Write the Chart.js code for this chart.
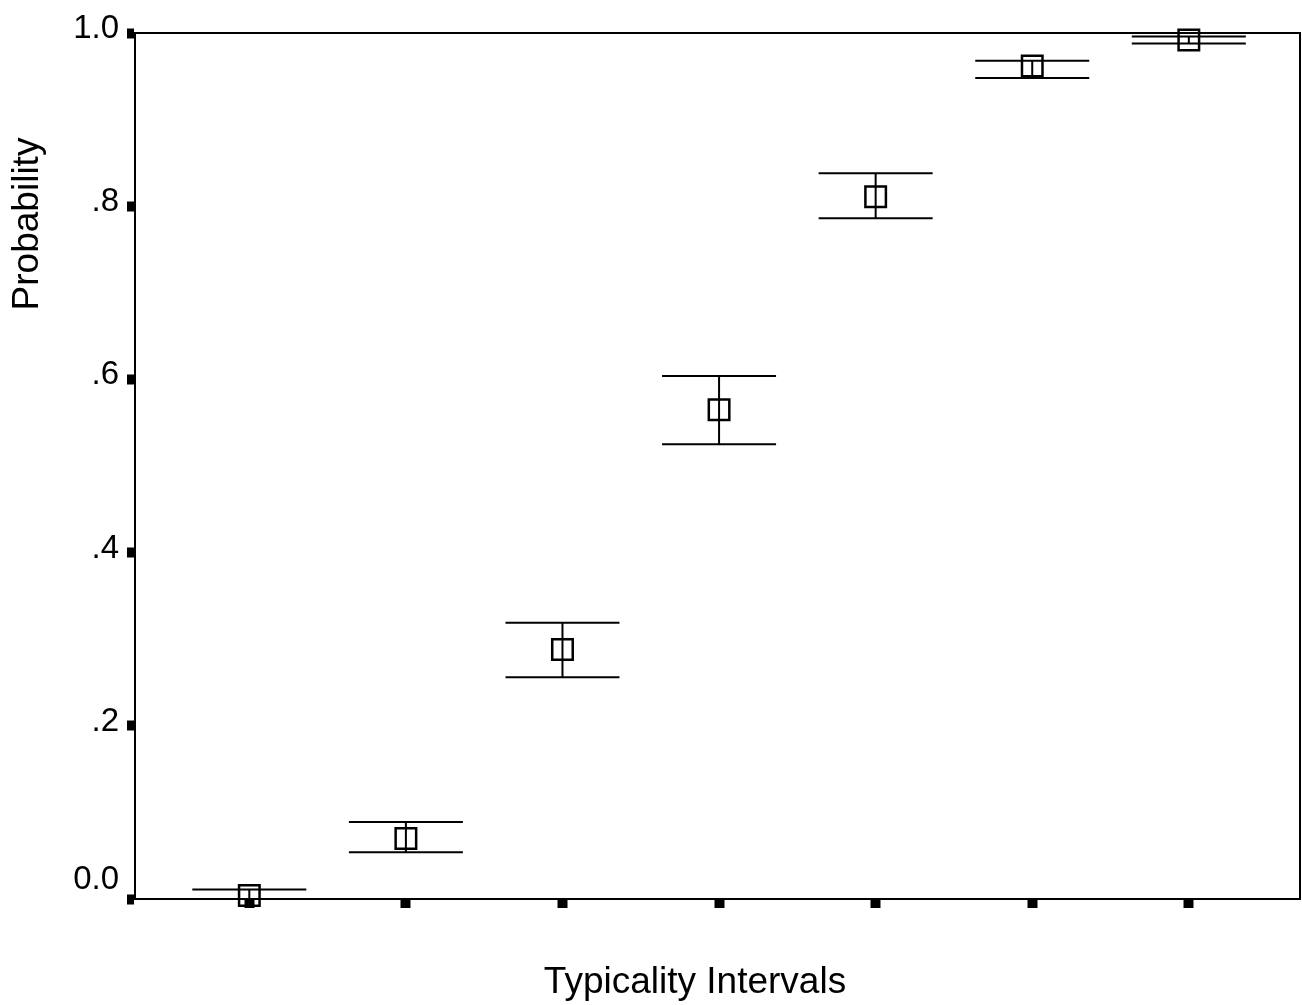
<!DOCTYPE html>
<html>
<head>
<meta charset="utf-8">
<script src="https://cdn.jsdelivr.net/npm/chart.js@4.4.1/dist/chart.umd.min.js"></script>
<style>
  html, body { margin: 0; padding: 0; background: #fff; overflow: hidden; }
  #wrap { width: 1302px; height: 1005px; }
  canvas { display: block; }
</style>
</head>
<body>
<div id="wrap"><canvas id="probChart"></canvas></div>
<script>
// Data
const intervals = [1, 2, 3, 4, 5, 6, 7];
const meanProb  = [0.004, 0.070, 0.288, 0.565, 0.811, 0.962, 0.992];
const upperProb = [0.011, 0.089, 0.319, 0.604, 0.838, 0.968, 0.996];
const lowerProb = [0.000, 0.054, 0.256, 0.525, 0.786, 0.948, 0.988];
const yTicks      = [0, 0.2, 0.4, 0.6, 0.8, 1.0];
const yTickLabels = ['0.0', '.2', '.4', '.6', '.8', '1.0'];
const xTitle = 'Typicality Intervals';
const yTitle = 'Probability';

const FONT = '"Liberation Sans", Arial, sans-serif';

// error bars, frame, tick labels, titles
const spssPlugin = {
    id: 'spss',
    beforeDatasetsDraw(chart) {
        const { ctx, scales: { x, y } } = chart;
        ctx.save();
        ctx.strokeStyle = '#000';
        ctx.lineWidth = 2;
        intervals.forEach((v, i) => {
            const px = x.getPixelForValue(v);
            const top = y.getPixelForValue(upperProb[i]);
            const bot = y.getPixelForValue(lowerProb[i]);
            ctx.beginPath();
            ctx.moveTo(px, top); ctx.lineTo(px, bot);
            ctx.moveTo(px - 57, top); ctx.lineTo(px + 57, top);
            ctx.moveTo(px - 57, bot); ctx.lineTo(px + 57, bot);
            ctx.stroke();
        });
        ctx.restore();
    },
    afterDraw(chart) {
        const { ctx, chartArea: a, scales: { y } } = chart;
        ctx.save();
        ctx.strokeStyle = '#000';
        ctx.lineWidth = 2;
        ctx.beginPath();
        ctx.moveTo(a.left, a.top); ctx.lineTo(a.right, a.top); ctx.lineTo(a.right, a.bottom);
        ctx.stroke();

        ctx.fillStyle = '#000';
        ctx.font = '33px ' + FONT;
        ctx.textAlign = 'right';
        ctx.textBaseline = 'alphabetic';
        yTicks.forEach((v, i) => {
            let py = y.getPixelForValue(v);
            // the zero label sits higher above its tick
            const lift = v === 0 ? 15 : 0;
            ctx.fillText(yTickLabels[i], 119, py + 5 - lift);
        });

        ctx.font = '37px ' + FONT;
        ctx.textAlign = 'center';
        ctx.fillText(xTitle, 695, 993);

        ctx.translate(38, 224);
        ctx.rotate(-Math.PI / 2);
        ctx.fillText(yTitle, 0, 0);
        ctx.restore();
    }
};

const ctx = document.getElementById('probChart').getContext('2d');
const chart = new Chart(ctx, {
    type: 'scatter',
    data: {
        datasets: [{
            data: intervals.map((v, i) => ({ x: v, y: meanProb[i] })),
            pointStyle: 'rect',
            pointRadius: 14.5,
            pointHoverRadius: 14.5,
            borderColor: '#000',
            borderWidth: 2.5,
            backgroundColor: 'rgba(0,0,0,0)',
            clip: false
        }]
    },
    options: {
        responsive: true,
        maintainAspectRatio: false,
        animation: false,
        events: [],
        layout: { autoPadding: false, padding: { top: 33, right: 2, left: 0, bottom: 0 } },
        plugins: { legend: { display: false }, tooltip: { enabled: false } },
        scales: {
            x: {
                type: 'linear',
                min: 0.27,
                max: 7.71,
                afterBuildTicks: s => { s.ticks = intervals.map(v => ({ value: v })); },
                afterFit: s => { s.height = 106; },
                ticks: { display: false },
                grid: {
                    drawOnChartArea: false,
                    drawTicks: true,
                    tickLength: 9,
                    tickWidth: 10,
                    tickColor: '#000'
                },
                border: { color: '#000', width: 2 }
            },
            y: {
                min: 0,
                max: 1,
                afterBuildTicks: s => { s.ticks = yTicks.map(v => ({ value: v })); },
                afterFit: s => { s.width = 135; },
                ticks: { display: false },
                grid: {
                    drawOnChartArea: false,
                    drawTicks: true,
                    tickLength: 8,
                    tickWidth: 10,
                    tickColor: '#000'
                },
                border: { color: '#000', width: 2 }
            }
        }
    },
    plugins: [spssPlugin]
});
</script>
</body>
</html>
